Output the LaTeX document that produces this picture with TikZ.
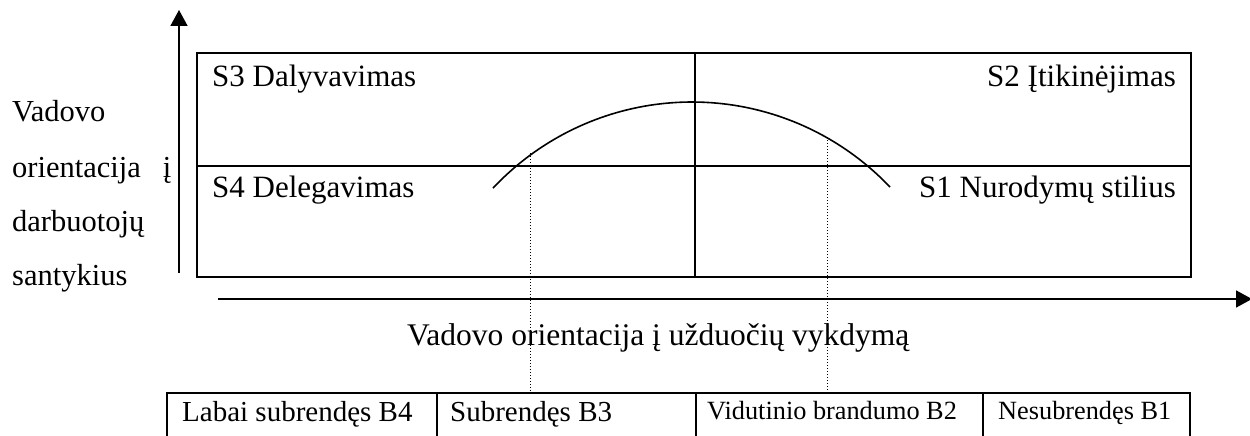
\documentclass[tikz,border=0pt]{standalone}
\usepackage{fontspec}
\setmainfont{Liberation Serif}
\usetikzlibrary{arrows.meta}
\tikzset{
  lbl/.style={font=\fontsize{31}{31}\selectfont, inner sep=0pt},
  sidelbl/.style={font=\fontsize{30.5}{30.5}\selectfont, inner sep=0pt},
  axlbl/.style={font=\fontsize{31.5}{31.5}\selectfont, inner sep=0pt},
  cell/.style={font=\fontsize{29}{29}\selectfont, inner sep=0pt},
  smcell/.style={font=\fontsize{26.3}{26.3}\selectfont, inner sep=0pt},
  frame/.style={line width=2pt},
  axis/.style={line width=1.6pt, -{Triangle[length=16pt,width=17pt]}},
  guide/.style={line width=1pt, dotted},
  curve/.style={line width=1.6pt},
}
\begin{document}
\begin{tikzpicture}[x=1pt,y=-1pt]
\useasboundingbox (0,0) rectangle (1250,436);
% axes
\coordinate (yb) at (179,273);
\coordinate (yt) at (179,10);
\draw[axis] (yb) -- (yt);
\coordinate (xl) at (218,299);
\coordinate (xr) at (1252,299);
\draw[axis] (xl) -- (xr);
% main grid
\draw[frame] (197,53) rectangle (1191,277);
\draw[frame] (197,166) -- (1191,166);
\draw[frame] (695,53) -- (695,277);
% curve
\draw[curve] plot[domain=-46.8:46.5, samples=80] ({692+273*sin(\x)}, {375-273*cos(\x)});
% dotted guides
\coordinate (g1t) at (530,153);
\coordinate (g1b) at (530,393);
\coordinate (g2t) at (827,137);
\coordinate (g2b) at (827,393);
\draw[guide] (g1t) -- (g1b);
\draw[guide] (g2t) -- (g2b);
% quadrant labels
\node[lbl, anchor=base west] (s3) at (212,86) {S3 Dalyvavimas};
\node[lbl, anchor=base east] (s2) at (1176,86) {S2 Įtikinėjimas};
\node[lbl, anchor=base west] (s4) at (212,197) {S4 Delegavimas};
\node[lbl, anchor=base east] (s1) at (1176,197) {S1 Nurodymų stilius};
% y-axis label
\node[sidelbl, anchor=base west] (v1) at (12,121) {Vadovo};
\node[sidelbl, anchor=base west] (v2) at (12,177) {orientacija\hspace{22pt}į};
\node[sidelbl, anchor=base west] (v3) at (12,231) {darbuotojų};
\node[sidelbl, anchor=base west] (v4) at (12,285) {santykius};
% x-axis label
\node[axlbl, anchor=base west] (xlab) at (407,345) {Vadovo orientacija į užduočių vykdymą};
% maturity table
\draw[frame] (167,440) -- (167,393) -- (1190,393) -- (1190,440);
\draw[frame] (437,393) -- (437,440);
\draw[frame] (696,393) -- (696,440);
\draw[frame] (983,393) -- (983,440);
\node[cell, anchor=base west] (b4) at (182,421) {Labai subrendęs B4};
\node[cell, anchor=base west] (b3) at (450,421) {Subrendęs B3};
\node[smcell, anchor=base west] (b2) at (707,419) {Vidutinio brandumo B2};
\node[smcell, anchor=base west] (b1) at (998,419) {Nesubrendęs B1};
\end{tikzpicture}
\end{document}
